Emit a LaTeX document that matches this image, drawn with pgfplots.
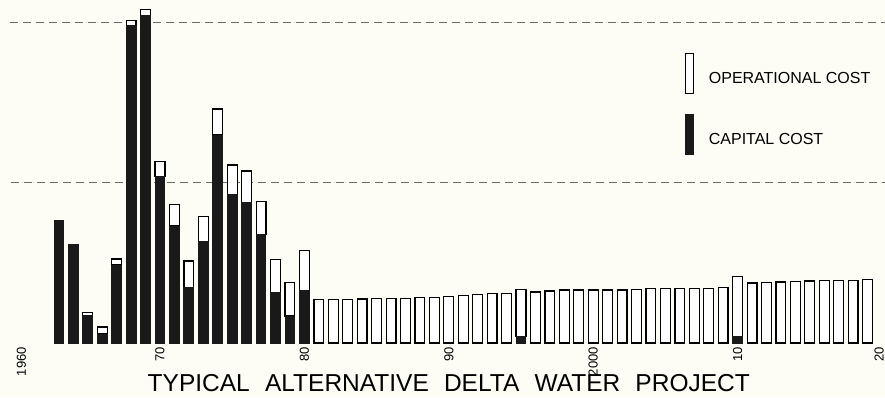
\documentclass[border=0pt]{standalone}
\usepackage{fontspec}
\setmainfont{Liberation Sans}
\usepackage{pgfplots}
\usepackage{pgfplotstable}
\pgfplotsset{compat=1.18}
\definecolor{bg}{RGB}{253,253,246}
\definecolor{capc}{RGB}{25,25,25}
\definecolor{dashc}{RGB}{105,105,105}

\pgfplotstableread{
year cap op
1963 76.6 0
1964 61.5 0
1965 17.0 2.0
1966 5.6 4.4
1967 48.6 3.7
1968 197.7 3.3
1969 204.0 4.0
1970 103.6 9.4
1971 72.9 13.5
1972 34.7 16.4
1973 63.1 15.6
1974 129.6 16.2
1975 92.6 18.3
1976 87.4 19.8
1977 67.7 20.3
1978 31.3 20.8
1979 16.8 20.8
1980 32.6 24.9
1981 0 27.0
1982 0 27.2
1983 0 27.2
1984 0 27.4
1985 0 27.6
1986 0 27.6
1987 0 27.9
1988 0 28.2
1989 0 28.6
1990 0 29.2
1991 0 29.7
1992 0 30.3
1993 0 30.7
1994 0 30.9
1995 3.9 29.7
1996 0 31.8
1997 0 32.4
1998 0 33.0
1999 0 33.0
2000 0 33.0
2001 0 33.0
2002 0 33.0
2003 0 33.6
2004 0 34.0
2005 0 34.0
2006 0 34.0
2007 0 34.2
2008 0 34.2
2009 0 34.6
2010 4.2 37.1
2011 0 37.4
2012 0 37.6
2013 0 38.0
2014 0 38.2
2015 0 38.6
2016 0 38.8
2017 0 39.0
2018 0 39.2
2019 0 39.8
}\costs

\begin{document}
\begin{tikzpicture}
\fill[bg] (-15.6pt,-54pt) rectangle (869.4pt,343pt);
\begin{axis}[
  scale only axis,
  width=866.4pt, height=343pt,
  xmin=1960, xmax=2020, ymin=0, ymax=213.8,
  clip=false,
  axis line style={draw=none},
  ytick=\empty,
  xtick={1960.4,1970,1980,1990,2000,2010,2019.8},
  xticklabels={1960,70,80,90,2000,10,20},
  major tick length=0pt,
  /pgf/number format/assume math mode=true,
  xticklabel shift=4pt,
  xticklabel style={rotate=90, anchor=east, font=\fontsize{13}{13}\selectfont, inner sep=0pt},
  ybar stacked, bar width=0.68,
  legend cell align=left,
  legend style={draw=none, fill=none, inner sep=0pt, outer sep=0pt,
    at={(axis description cs:0.7726,0.8455)}, anchor=north west,
    row sep=20pt, column sep=15pt,
    nodes={inner sep=0pt, font=\fontsize{16}{16}\selectfont}},
]
\addlegendimage{legend image code/.code={\draw[fill=white, draw=black, line width=0.9pt] (0pt,-14.5pt) rectangle (8pt,25.5pt);}}
\addlegendentry{OPERATIONAL COST}
\addlegendimage{legend image code/.code={\fill[capc] (0pt,-14.5pt) rectangle (8pt,25.5pt);}}
\addlegendentry{CAPITAL COST}

\addplot[fill=capc, draw=capc, line width=1pt, forget plot] table[x=year,y=cap]{\costs};
\addplot[fill=white, draw=black, line width=1.2pt, forget plot] table[x=year,y=op]{\costs};

\draw[dashc, line width=0.9pt, dash pattern=on 8pt off 5pt] (axis cs:1959.6,200) -- (axis cs:2021.5,200);
\draw[dashc, line width=0.9pt, dash pattern=on 8pt off 5pt] (axis cs:1959.7,100) -- (axis cs:2021.5,100);

\node[anchor=base, font=\fontsize{24.5}{24.5}\selectfont, inner sep=0pt] at (axis description cs:0.5,0) [yshift=-48pt]
  {TYPICAL\hspace{0.62em}ALTERNATIVE\hspace{0.62em}DELTA\hspace{0.62em}WATER\hspace{0.62em}PROJECT};
\end{axis}
\pgfresetboundingbox
\useasboundingbox (-15.6pt,-54pt) rectangle (869.4pt,343pt);
\end{tikzpicture}
\end{document}
